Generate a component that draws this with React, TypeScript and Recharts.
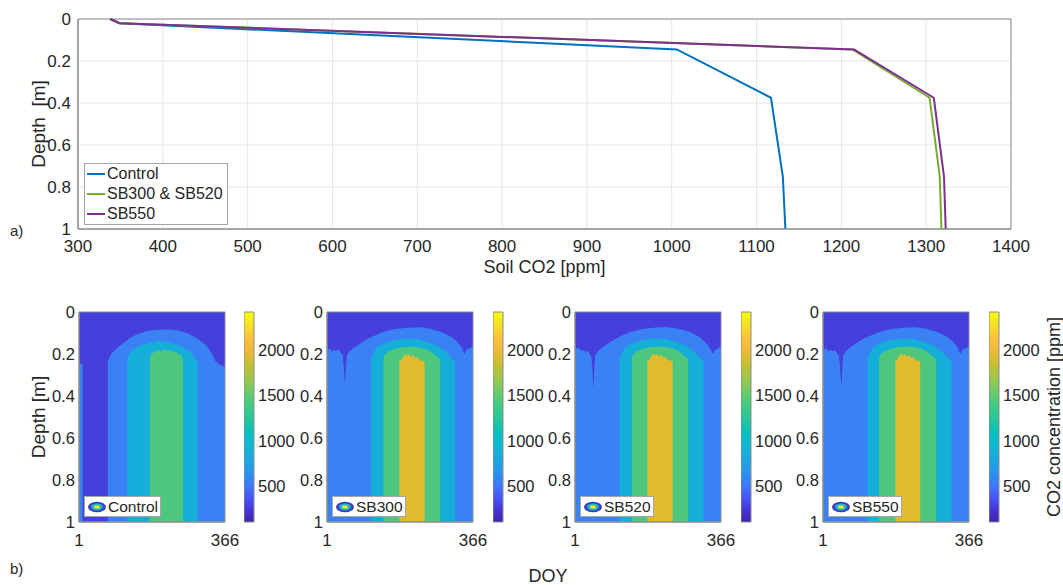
import React from "react";
import {
  LineChart,
  Line,
  ComposedChart,
  Area,
  BarChart,
  Bar,
  XAxis,
  YAxis,
  CartesianGrid,
  ReferenceArea,
  Label,
} from "recharts";

const FONT = '"Liberation Sans", Arial, Helvetica, sans-serif';
const INK = "#262626";
const AXIS = "#8c8c8c";

// ---- a) soil CO2 depth profiles
const depthLevels = [0, 0.02, 0.145, 0.375, 0.75, 1];
const co2Control = [338, 349, 1006, 1117, 1131, 1134];
const co2SB300SB520 = [338, 349, 1213, 1304, 1316, 1318];
const co2SB550 = [338, 349, 1215, 1309, 1321, 1323];
const co2Ticks = [300, 400, 500, 600, 700, 800, 900, 1000, 1100, 1200, 1300, 1400];
const depthTicks = [0, 0.2, 0.4, 0.6, 0.8, 1];

const profileSeries = [
  { name: "Control", color: "#0072BD", values: co2Control },
  { name: "SB300 & SB520", color: "#77AC30", values: co2SB300SB520 },
  { name: "SB550", color: "#7E2F8E", values: co2SB550 },
];

// ---- b) contour tops: [DOY, depth where the level is first reached], null = gap
type Pt = [number, number | null];

const control700: Pt[] = [
  [1, 0.24], [10, 0.25], [11, null],
  [73, 0.235], [80, 0.205], [86, 0.19], [100, 0.165], [111, 0.15], [124, 0.13],
  [136, 0.116], [150, 0.104], [170, 0.092], [190, 0.086], [212, 0.083], [235, 0.085],
  [254, 0.09], [270, 0.1], [287, 0.116], [300, 0.13], [312, 0.148], [322, 0.165],
  [329, 0.187], [336, 0.21], [342, 0.235], [352, 0.25], [366, 0.26],
];
const control1100: Pt[] = [
  [121, 0.245], [124, 0.21], [130, 0.19], [138, 0.175], [150, 0.163], [161, 0.155],
  [172, 0.15], [180, 0.143], [186, 0.15], [190, 0.135], [196, 0.145], [200, 0.132],
  [206, 0.14], [215, 0.14], [228, 0.146], [245, 0.156], [262, 0.17], [275, 0.183],
  [283, 0.198], [290, 0.218], [298, 0.24],
];
const control1500: Pt[] = [
  [178, 0.215], [183, 0.196], [190, 0.19], [195, 0.185], [200, 0.18], [205, 0.19],
  [210, 0.18], [218, 0.182], [230, 0.185], [242, 0.19], [252, 0.2], [258, 0.21], [261, 0.225],
];

const sb300_700: Pt[] = [
  [1, 0.17], [6, 0.18], [10, 0.175], [14, 0.19], [18, 0.18], [24, 0.185], [30, 0.18],
  [35, 0.195], [40, 0.2], [43, 0.26], [46, 0.35], [48, 0.27], [51, 0.205], [56, 0.19],
  [62, 0.18], [68, 0.17], [75, 0.163], [88, 0.145], [100, 0.13], [117, 0.115], [134, 0.1],
  [155, 0.088], [176, 0.08], [205, 0.075], [234, 0.073], [256, 0.079], [276, 0.089],
  [293, 0.1], [309, 0.116], [322, 0.135], [332, 0.155], [338, 0.17], [342, 0.19],
  [345, 0.2], [349, 0.18], [355, 0.175], [360, 0.17], [366, 0.165],
];
const sb300_1100: Pt[] = [
  [111, 0.235], [114, 0.21], [120, 0.185], [127, 0.168], [137, 0.155], [150, 0.145],
  [167, 0.136], [184, 0.13], [205, 0.127], [226, 0.13], [247, 0.14], [267, 0.153],
  [283, 0.168], [297, 0.187], [305, 0.205], [311, 0.22], [321, 0.232],
];
const sb300_1500: Pt[] = [
  [142, 0.225], [145, 0.205], [150, 0.195], [156, 0.187], [165, 0.18], [178, 0.172],
  [192, 0.168], [210, 0.165], [226, 0.168], [245, 0.175], [259, 0.187], [268, 0.2],
  [276, 0.212], [284, 0.225],
];
const sb300_1900: Pt[] = [
  [182, 0.235], [187, 0.23], [191, 0.215], [195, 0.205], [199, 0.2], [203, 0.21],
  [207, 0.2], [212, 0.215], [217, 0.205], [222, 0.22], [228, 0.215], [233, 0.23],
  [239, 0.232], [245, 0.238],
];

const sb520_700: Pt[] = [
  [1, 0.165], [6, 0.175], [11, 0.17], [15, 0.185], [20, 0.18], [26, 0.19], [32, 0.185],
  [38, 0.2], [42, 0.215], [45, 0.29], [47, 0.37], [49, 0.28], [52, 0.205], [57, 0.19],
  [63, 0.178], [70, 0.168], [78, 0.158], [90, 0.142], [102, 0.128], [118, 0.113],
  [135, 0.099], [156, 0.087], [178, 0.079], [205, 0.074], [230, 0.072], [255, 0.078],
  [276, 0.088], [294, 0.1], [310, 0.117], [322, 0.136], [332, 0.156], [338, 0.172],
  [343, 0.19], [346, 0.2], [350, 0.182], [356, 0.176], [361, 0.17], [366, 0.168],
];
const sb520_1100: Pt[] = [
  [112, 0.232], [115, 0.208], [121, 0.184], [128, 0.167], [138, 0.154], [151, 0.144],
  [168, 0.135], [185, 0.129], [206, 0.126], [227, 0.129], [248, 0.139], [268, 0.152],
  [284, 0.168], [298, 0.188], [306, 0.205], [312, 0.22], [322, 0.232],
];
const sb520_1500: Pt[] = [
  [143, 0.222], [146, 0.204], [151, 0.194], [157, 0.186], [166, 0.179], [179, 0.171],
  [193, 0.167], [210, 0.164], [227, 0.167], [246, 0.174], [260, 0.186], [269, 0.2],
  [277, 0.212], [284, 0.225],
];
const sb520_1900: Pt[] = [
  [182, 0.232], [187, 0.226], [191, 0.212], [195, 0.203], [199, 0.198], [203, 0.21],
  [207, 0.199], [212, 0.213], [217, 0.204], [222, 0.218], [228, 0.214], [233, 0.228],
  [239, 0.23], [245, 0.236],
];

const sb550_700: Pt[] = [
  [1, 0.168], [6, 0.178], [10, 0.172], [14, 0.188], [19, 0.18], [25, 0.187], [31, 0.182],
  [36, 0.197], [41, 0.21], [44, 0.28], [47, 0.36], [49, 0.275], [52, 0.205], [57, 0.19],
  [63, 0.178], [69, 0.168], [76, 0.16], [89, 0.143], [101, 0.129], [118, 0.114],
  [135, 0.1], [156, 0.088], [177, 0.08], [205, 0.075], [232, 0.073], [256, 0.079],
  [276, 0.089], [293, 0.1], [309, 0.116], [322, 0.135], [332, 0.155], [338, 0.17],
  [342, 0.19], [345, 0.2], [349, 0.18], [355, 0.175], [360, 0.17], [366, 0.166],
];
const sb550_1100: Pt[] = [
  [112, 0.232], [115, 0.208], [121, 0.184], [128, 0.167], [138, 0.154], [151, 0.144],
  [168, 0.135], [185, 0.129], [206, 0.126], [227, 0.129], [248, 0.139], [268, 0.152],
  [284, 0.168], [298, 0.188], [306, 0.205], [312, 0.22], [322, 0.232],
];
const sb550_1500: Pt[] = [
  [141, 0.224], [144, 0.205], [149, 0.195], [156, 0.187], [165, 0.18], [178, 0.172],
  [192, 0.167], [210, 0.164], [227, 0.167], [245, 0.174], [259, 0.186], [268, 0.2],
  [276, 0.212], [284, 0.225],
];
const sb550_1900: Pt[] = [
  [182, 0.234], [186, 0.228], [190, 0.213], [194, 0.204], [198, 0.198], [202, 0.21],
  [206, 0.2], [211, 0.214], [216, 0.204], [221, 0.219], [227, 0.214], [232, 0.229],
  [238, 0.231], [244, 0.237],
];

const doyTicks = [1, 366];
const belowColor = "#4540DC"; // < 700 ppm
const bandColors = ["#3A82F3", "#15AED9", "#4EC77E", "#E1BA2E"]; // 700, 1100, 1500, 1900

const panelNames = ["Control", "SB300", "SB520", "SB550"];
const panelBands: Pt[][][] = [
  [control700, control1100, control1500],
  [sb300_700, sb300_1100, sb300_1500, sb300_1900],
  [sb520_700, sb520_1100, sb520_1500, sb520_1900],
  [sb550_700, sb550_1100, sb550_1500, sb550_1900],
];

// colorbar
const cbarMin = 112;
const cbarMax = 2414;
const cbarTicks = [500, 1000, 1500, 2000];
const parulaStops: [number, string][] = [
  [0, "#3E26A8"], [0.05, "#4531D3"], [0.11, "#4852F4"], [0.17, "#3F75FE"],
  [0.24, "#2796EB"], [0.3, "#1DA7E1"], [0.37, "#0FB9D1"], [0.43, "#07C1BE"],
  [0.49, "#27C698"], [0.56, "#42CB82"], [0.62, "#6BCB68"], [0.68, "#9AC64D"],
  [0.75, "#C5C036"], [0.81, "#EABA37"], [0.87, "#FEBE3C"], [0.94, "#F5E224"],
  [1, "#F9FB0E"],
];

// layout
const PLOT_LEFTS = [79, 327, 575, 823];
const CBAR_LEFTS = [244, 493, 741, 989];
const TOP = 300;

const tickStyle = { fontSize: 17, fill: INK, fontFamily: FONT };
const smallTick = { fontSize: 16.5, fill: INK, fontFamily: FONT };

function toRows(pts: Pt[]) {
  return pts.map(([doy, depth]) => ({ doy, depth }));
}

function ProfileChart() {
  return (
    <LineChart
      width={1063}
      height={285}
      margin={{ top: 19, right: 52, bottom: 0, left: 0 }}
      style={{ fontFamily: FONT }}
    >
      <CartesianGrid stroke="#e6e6e6" />
      <XAxis
        type="number"
        dataKey="co2"
        domain={[300, 1400]}
        ticks={co2Ticks}
        allowDataOverflow
        height={56}
        axisLine={{ stroke: AXIS }}
        tickLine={false}
        tickSize={6}
        tickMargin={5}
        tick={tickStyle}
      >
        <Label
          value="Soil CO2 [ppm]"
          position="insideTop"
          offset={31}
          style={{ fontSize: 18, fill: INK, fontFamily: FONT }}
        />
      </XAxis>
      <YAxis
        type="number"
        dataKey="depth"
        domain={[0, 1]}
        reversed
        ticks={depthTicks}
        width={78}
        axisLine={{ stroke: AXIS }}
        tickLine={false}
        tickSize={4}
        tickMargin={3}
        tick={tickStyle}
      >
        <Label
          value={"Depth\u00a0\u00a0[m]"}
          angle={-90}
          position="insideLeft"
          offset={38}
          style={{ fontSize: 19, fill: INK, fontFamily: FONT, textAnchor: "middle" }}
        />
      </YAxis>
      {profileSeries.map((s) => (
        <Line
          key={s.name}
          data={s.values.map((co2, i) => ({ co2, depth: depthLevels[i] }))}
          dataKey="depth"
          type="linear"
          stroke={s.color}
          strokeWidth={2}
          dot={false}
          activeDot={false}
          isAnimationActive={false}
        />
      ))}
      <ReferenceArea x1={300} x2={1400} y1={0} y2={1} fill="none" stroke={AXIS} />
    </LineChart>
  );
}

function ContourPanel({ index }: { index: number }) {
  const bands = panelBands[index];
  return (
    <div style={{ position: "absolute", left: PLOT_LEFTS[index] - 50, top: TOP }}>
      <ComposedChart
        width={222}
        height={262}
        margin={{ top: 12, right: 26, bottom: 17, left: 0 }}
        style={{ fontFamily: FONT }}
      >
        <CartesianGrid horizontal={false} vertical={false} fill={belowColor} fillOpacity={1} />
        <XAxis
          type="number"
          dataKey="doy"
          domain={[1, 366]}
          ticks={doyTicks}
          allowDataOverflow
          height={23}
          axisLine={{ stroke: AXIS }}
          tickLine={false}
          tickSize={6}
          tickMargin={6}
          tick={tickStyle}
        />
        <YAxis
          type="number"
          domain={[0, 1]}
          reversed
          ticks={depthTicks}
          width={50}
          axisLine={{ stroke: AXIS }}
          tickLine={false}
          tickSize={2}
          tickMargin={2}
          tick={smallTick}
        >
          {index === 0 && (
            <Label
              value="Depth [m]"
              angle={-90}
              position="insideLeft"
              offset={9}
              style={{ fontSize: 19, fill: INK, fontFamily: FONT, textAnchor: "middle" }}
            />
          )}
        </YAxis>
        {bands.map((pts, i) => (
          <Area
            key={i}
            data={toRows(pts)}
            dataKey="depth"
            type="linear"
            baseValue="dataMax"
            stroke="none"
            fill={bandColors[i]}
            fillOpacity={1}
            connectNulls={false}
            dot={false}
            activeDot={false}
            isAnimationActive={false}
          />
        ))}
        <ReferenceArea x1={1} x2={366} y1={0} y2={1} fill="none" stroke={AXIS} />
      </ComposedChart>
    </div>
  );
}

function Colorbar({ index }: { index: number }) {
  const id = `parula-${index}`;
  return (
    <div style={{ position: "absolute", left: CBAR_LEFTS[index], top: TOP }}>
      <BarChart
        width={56}
        height={245}
        data={[{ name: "cb", range: [cbarMin, cbarMax] }]}
        margin={{ top: 12, right: 0, bottom: 23, left: 0 }}
        barCategoryGap={0}
        style={{ fontFamily: FONT }}
      >
        <defs>
          <linearGradient id={id} x1="0" y1="1" x2="0" y2="0">
            {parulaStops.map(([o, c]) => (
              <stop key={o} offset={o} stopColor={c} />
            ))}
          </linearGradient>
        </defs>
        <XAxis dataKey="name" hide />
        <YAxis
          orientation="right"
          type="number"
          domain={[cbarMin, cbarMax]}
          ticks={cbarTicks}
          width={46}
          axisLine={false}
          tickLine={false}
          tickSize={2}
          tickMargin={2}
          tick={smallTick}
        />
        <Bar dataKey="range" fill={`url(#${id})`} stroke={AXIS} isAnimationActive={false} />
      </BarChart>
    </div>
  );
}

function ContourIcon() {
  return (
    <svg width={20} height={12} style={{ display: "block" }}>
      <ellipse cx={10} cy={6} rx={9} ry={5.2} fill="#3D3BC8" />
      <ellipse cx={10} cy={6} rx={6.2} ry={3.4} fill="#1EB2C4" />
      <ellipse cx={10} cy={6} rx={3} ry={1.7} fill="#F4E61E" />
    </svg>
  );
}

export default function App() {
  return (
    <div
      style={{
        position: "absolute",
        left: 0,
        top: 0,
        width: 1063,
        height: 585,
        background: "#fff",
        fontFamily: FONT,
        color: INK,
        overflow: "hidden",
      }}
    >
      <div style={{ position: "absolute", left: 0, top: 0 }}>
        <ProfileChart />
      </div>

      {/* legend of the profile plot */}
      <div
        style={{
          position: "absolute",
          left: 84,
          top: 163,
          height: 60,
          padding: "0 4px 0 0",
          background: "#fff",
          border: "1px solid #a6a6a6",
          fontSize: 16,
          lineHeight: "20px",
          whiteSpace: "nowrap",
        }}
      >
        {profileSeries.map((s) => (
          <div key={s.name} style={{ display: "flex", alignItems: "center", height: 20 }}>
            <span
              style={{ display: "inline-block", width: 18, height: 2, background: s.color, margin: "0 2px 0 2px" }}
            />
            <span>{s.name}</span>
          </div>
        ))}
      </div>

      {panelNames.map((name, i) => (
        <React.Fragment key={name}>
          <ContourPanel index={i} />
          <Colorbar index={i} />
          <div
            style={{
              position: "absolute",
              left: PLOT_LEFTS[i] + 5,
              top: 496,
              height: 19,
              padding: "0 2px 0 2px",
              background: "#fff",
              border: "1px solid #a6a6a6",
              display: "flex",
              alignItems: "center",
              gap: 1,
              fontSize: 15.5,
              whiteSpace: "nowrap",
            }}
          >
            <ContourIcon />
            <span>{name}</span>
          </div>
        </React.Fragment>
      ))}

      <svg
        width={1063}
        height={585}
        style={{ position: "absolute", left: 0, top: 0, pointerEvents: "none" }}
        fontFamily={FONT}
      >
        <text x={10} y={236} fontSize={15} fill={INK}>a)</text>
        <text x={10} y={574} fontSize={15} fill={INK}>b)</text>
        <text x={548} y={582} fontSize={18} fill={INK} textAnchor="middle">DOY</text>
        <text
          x={1054}
          y={417}
          fontSize={18}
          fill={INK}
          textAnchor="middle"
          dominantBaseline="central"
          transform="rotate(-90 1054 417)"
        >
          CO2 concentration [ppm]
        </text>
      </svg>
    </div>
  );
}
